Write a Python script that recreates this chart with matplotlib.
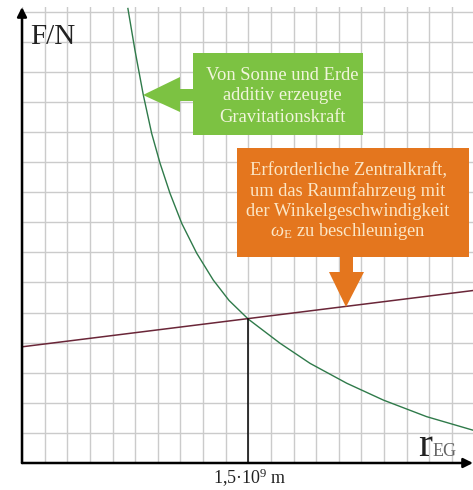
import matplotlib
matplotlib.use('Agg')
import matplotlib.pyplot as plt
from matplotlib.patches import Polygon

plt.rcParams['font.family'] = ['Liberation Serif', 'DejaVu Serif']
plt.rcParams['mathtext.fontset'] = 'custom'
plt.rcParams['mathtext.rm'] = 'Liberation Serif'
plt.rcParams['mathtext.it'] = 'Liberation Serif:italic'

# gravitational force of sun + earth (grid units)
grav_x = [4.68, 4.99, 5.36, 5.73, 6.10, 6.54, 7.06, 7.72, 8.45, 9.15, 10.0,
          11.40, 12.73, 14.35, 15.97, 17.88, 19.93]
grav_y = [15.10, 13.72, 12.23, 10.95, 9.96, 8.96, 7.96, 6.97, 6.08, 5.40, 4.78,
          3.98, 3.31, 2.65, 2.09, 1.54, 1.09]

# required centripetal force (straight line)
zentral_x = [0.0, 19.93]
zentral_y = [3.86, 5.73]

# intersection marker
r_cross = 10.0
f_cross = 4.79

W, H = 473, 490
fig = plt.figure(figsize=(W / 100, H / 100), dpi=100)
ax = fig.add_axes([22 / W, 27 / H, (W - 22) / W, 456 / H])
ax.set_xlim(0, 19.93)
ax.set_ylim(0, 15.15)

ax.set_xticks(range(0, 20))
ax.set_yticks(range(0, 16))
ax.grid(True, color='#cbcbcb', lw=1.0)
ax.tick_params(length=0, labelbottom=False, labelleft=False)
for s in ax.spines.values():
    s.set_visible(False)

ax.plot(grav_x, grav_y, color='#2f7a4a', lw=1.0, zorder=3)
ax.plot(zentral_x, zentral_y, color='#6a2638', lw=1.1, zorder=3)
ax.plot([r_cross, r_cross], [0, f_cross], color='black', lw=1.1, zorder=3)

# axes with arrows
ax.annotate('', xy=(0, 15.15), xytext=(0, 0), annotation_clip=False,
            arrowprops=dict(arrowstyle='-|>', lw=1.8, color='black', mutation_scale=14,
                            shrinkA=0, shrinkB=0))
ax.annotate('', xy=(19.93, 0), xytext=(0, 0), annotation_clip=False,
            arrowprops=dict(arrowstyle='-|>', lw=1.8, color='black', mutation_scale=14,
                            shrinkA=0, shrinkB=0))


def fp(pts):
    return [(x / W, 1 - y / H) for x, y in pts]


# green callout
green = [(193, 53), (363, 53), (363, 135), (193, 135), (193, 101), (180, 101),
         (180, 112), (143, 95), (180, 77), (180, 89), (193, 89)]
fig.patches.append(Polygon(fp(green), closed=True, transform=fig.transFigure,
                           facecolor='#7cc242', edgecolor='none', zorder=5))
for txt, yy in [('Von Sonne und Erde', 75), ('additiv erzeugte', 96), ('Gravitationskraft', 117)]:
    fig.text(282 / W, 1 - yy / H, txt, ha='center', va='center', fontsize=13.3,
             color='#f1f5dc', zorder=6)

# orange callout
orange = [(237, 148), (469, 148), (469, 257), (353, 257), (353, 272), (364, 272),
          (346, 307), (329, 272), (340, 272), (340, 257), (237, 257)]
fig.patches.append(Polygon(fp(orange), closed=True, transform=fig.transFigure,
                           facecolor='#e4761e', edgecolor='none', zorder=5))
lines = ['Erforderliche Zentralkraft,', 'um das Raumfahrzeug mit',
         'der Winkelgeschwindigkeit', r'$\omega_{\mathrm{E}}$ zu beschleunigen']
for txt, yy in zip(lines, [171, 191, 211, 231]):
    fig.text(348 / W, 1 - yy / H, txt, ha='center', va='center', fontsize=13.3,
             color='#fbe6c6', zorder=6)

# axis labels
fig.text(30 / W, 1 - 37 / H, 'F/N', ha='left', va='center', fontsize=21, color='#222222')
fig.text(418 / W, 1 - 456 / H, 'r', ha='left', va='baseline', fontsize=30, color='#222222')
fig.text(433 / W, 1 - 456 / H, 'EG', ha='left', va='baseline', fontsize=13, color='#666666')
fig.text(250 / W, 1 - 478 / H, r'1,5·10$^{9}$ m', ha='center', va='center', fontsize=13,
         color='#222222')

fig.savefig('out.png', dpi=100)
